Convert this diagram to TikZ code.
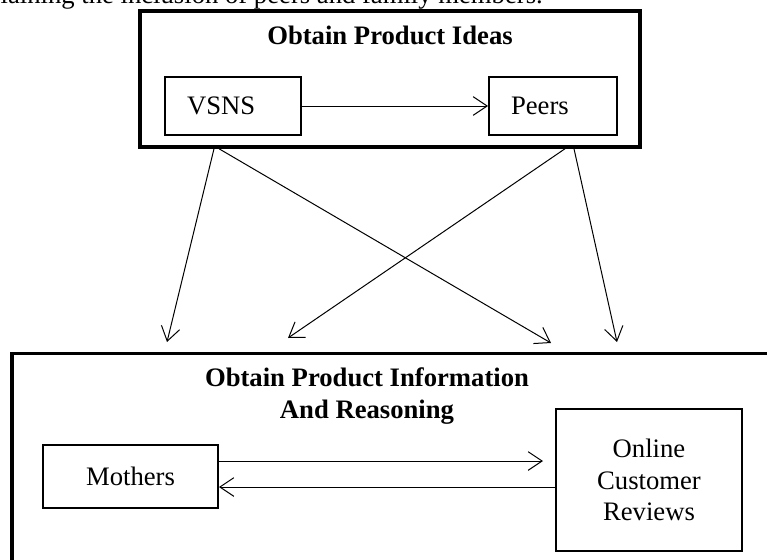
\documentclass[tikz,border=0pt]{standalone}
\usepackage{fontspec}
\setmainfont{Liberation Serif}
\usetikzlibrary{arrows.meta}
\newlength{\unitpx}
\setlength{\unitpx}{0.75pt}
\newcommand{\bodysize}{\fontsize{20}{23.5}\selectfont}
\tikzset{
  stage/.style={
    draw=black,
    line width=4\unitpx,
    inner sep=0pt
  },
  actor/.style={
    draw=black,
    line width=2\unitpx,
    minimum height=58\unitpx,
    inner sep=0pt,
    inner xsep=22\unitpx,
    font=\bodysize
  },
  lbl/.style={font=\bodysize, inner sep=0pt},
  ttl/.style={font=\bodysize\bfseries, inner sep=0pt, align=center},
  flow/.style={line width=1\unitpx, -{Straight Barb[length=10.5pt, width=14pt]}},
}

\begin{document}
\begin{tikzpicture}[x=\unitpx, y=-\unitpx]
  \useasboundingbox (0,0) rectangle (767,560);
  \clip (0,0) rectangle (767,560);
  % line of text above the figure, cut by the page edge
  \node[lbl, anchor=base east] (cap) at (543,3.5) {explaining the inclusion of peers and family members.};

  % upper stage
  \node[stage, minimum width=500\unitpx, minimum height=135.5\unitpx] (ideas) at (390,79) {};
  \node[ttl, anchor=base] (ideasT) at (390,45) {Obtain Product Ideas};
  \node[actor, text width=92\unitpx, align=left] (vsns) at (233,106) {VSNS};
  \node[actor, text width=84\unitpx, align=left] (peers) at (553,106) {Peers};
  \draw[flow] (vsns) -- (peers);

  % lower stage
  \node[stage, line width=3.5\unitpx, minimum width=790\unitpx, minimum height=250\unitpx] (info) at (407,478.5) {};
  \node[ttl] (infoT) at (367,396) {Obtain Product Information\\And Reasoning};
  \node[actor, minimum width=175\unitpx, minimum height=63\unitpx, align=center] (mothers) at (130.5,476.5) {Mothers};
  \node[actor, line width=1.5\unitpx, minimum width=186\unitpx, minimum height=142\unitpx, align=center] (ocr) at (649,480) {Online\\Customer\\Reviews};

  \coordinate (ocrGap) at (543,461);
  \draw[flow] (mothers.east |- ocrGap) -- (ocrGap);
  \draw[flow] ([yshift=-7\unitpx]ocr.west) coordinate (back) -- (mothers.east |- back);

  % from the upper stage down to the lower one
  \coordinate (vsnsL) at (167,342);
  \coordinate (vsnsR) at (551,343);
  \coordinate (peersL) at (288,338);
  \coordinate (peersR) at (617,342);
  \draw[flow] ([xshift=-176\unitpx]ideas.south) -- (vsnsL);
  \draw[flow] ([xshift=-171\unitpx]ideas.south) -- (vsnsR);
  \draw[flow] ([xshift=175\unitpx]ideas.south) -- (peersL);
  \draw[flow] ([xshift=184\unitpx]ideas.south) -- (peersR);
\end{tikzpicture}
\end{document}
